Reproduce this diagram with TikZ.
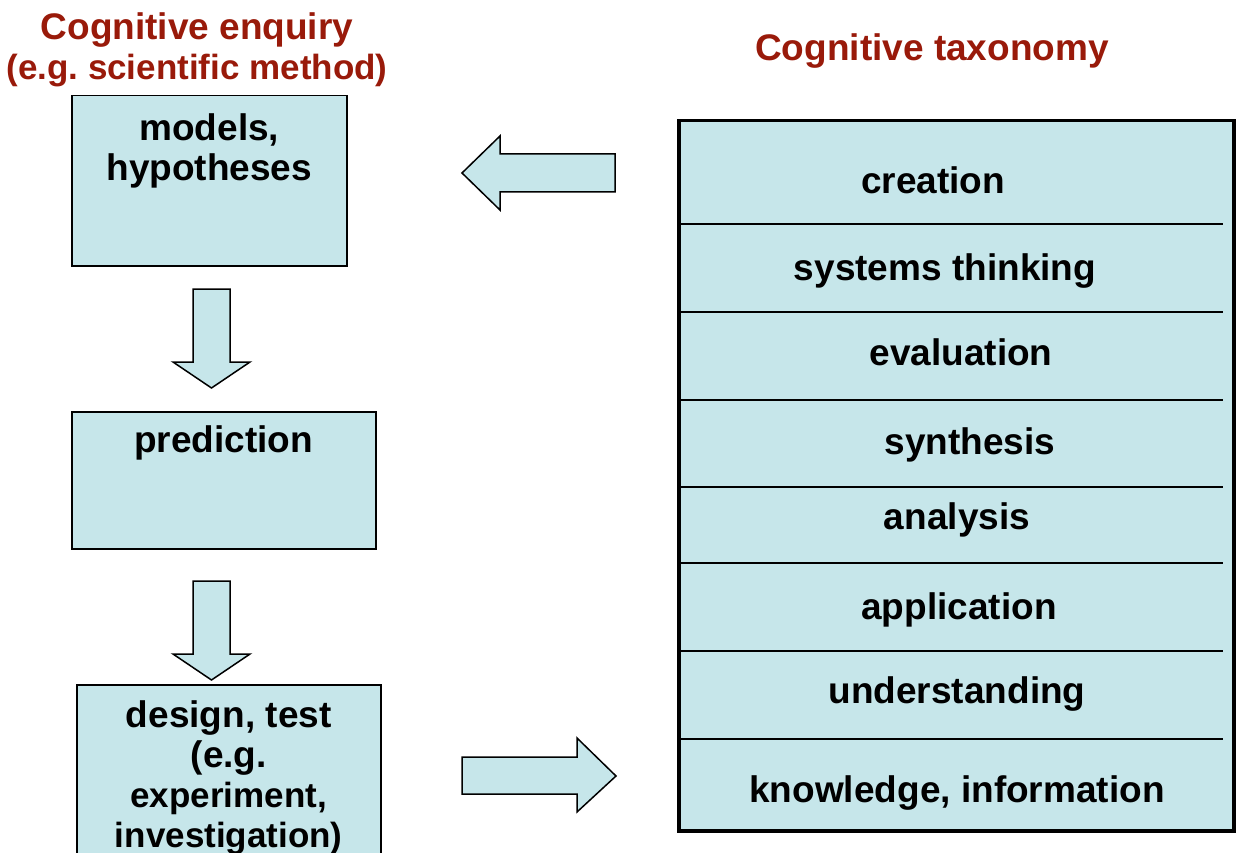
\documentclass[tikz,border=0pt]{standalone}
\usepackage{fontspec}
\setmainfont{Liberation Sans}
\usetikzlibrary{calc,positioning}
\definecolor{boxfill}{RGB}{198,230,234}
\definecolor{headred}{RGB}{153,26,10}
\tikzset{
	stage/.style={draw=black, line width=1.5, fill=boxfill, anchor=north west, inner sep=0},
	stagetext/.style={font=\bfseries\fontsize{37}{40}\selectfont\frenchspacing, align=center, inner sep=0},
	heading/.style={stagetext, text=headred},
	blockarrow/.style={draw=black, line width=1.5, fill=boxfill, line join=miter},
	rung/.style={line width=2}
}
\def\tight{\fontsize{35}{40}\selectfont}
\def\blockdown(#1){\draw[blockarrow] (#1) ++(-18.5,0) -- ++(37,0) -- ++(0,73) -- ++(20,0) -- ++(-38.5,26) -- ++(-38.5,-26) -- ++(20,0) -- cycle;}

\begin{document}
\begin{tikzpicture}[x=1pt, y=-1pt]
			%%%%% START %%%%%
			\useasboundingbox (0,0) rectangle (1239,853);
			
			\node[heading] (enqtitle) at (197,50) {Cognitive enquiry\\{\tight (e.g. scientific method)}};
			\node[heading] (taxtitle) at (932,51) {Cognitive taxonomy};
			
			\node[stage, minimum width=275, minimum height=170] (models) at (71,95) {};
			\node[stagetext] (modelstext) at ($(models.north)+(0,56)$) {models,\\hypotheses};
			
			\coordinate (down1) at (211.5,289);
			\blockdown(down1)
			
			\node[stage, minimum width=304, minimum height=137] (prediction) at (71,411) {};
			\node[stagetext] (predictiontext) at ($(prediction.north)+(0,32)$) {prediction};
			
			\coordinate (down2) at (211.5,581);
			\blockdown(down2)
			
			\node[stage, minimum width=304, minimum height=200] (design) at (76,684) {};
			\node[stagetext] (designtext) at ($(design.north)+(0,94)$) {design, test\\(e.g.\\{\tight experiment,}\\{\tight investigation)}};
			
			\draw[blockarrow] (615,154) -- (500,154) -- (500,136) -- (462,173) -- (500,210) -- (500,192) -- (615,192) -- cycle;
			\draw[blockarrow] (462,757) -- (577,757) -- (577,738) -- (616,776) -- (577,812) -- (577,794) -- (462,794) -- cycle;
			
			\node[stage, line width=3.5, minimum width=555, minimum height=710] (taxonomy) at (677,119) {};
			\foreach \y in {224,312,400,487,563,651,739}
				\draw[rung] (677,\y) -- (1223,\y);
			
			\node[stagetext] (creation) at (933,180) {creation};
			\node[stagetext] (systems) at (945,271) {systems thinking};
			\node[stagetext] (evaluation) at (961,352) {evaluation};
			\node[stagetext] (synthesis) at (970,445) {synthesis};
			\node[stagetext] (analysis) at (957,520) {analysis};
			\node[stagetext] (application) at (959,610) {application};
			\node[stagetext] (understanding) at (957,694) {understanding};
			\node[stagetext] (knowledge) at (957,793) {knowledge, information};
			
			%%%%% END %%%%%
\end{tikzpicture}
\end{document}
